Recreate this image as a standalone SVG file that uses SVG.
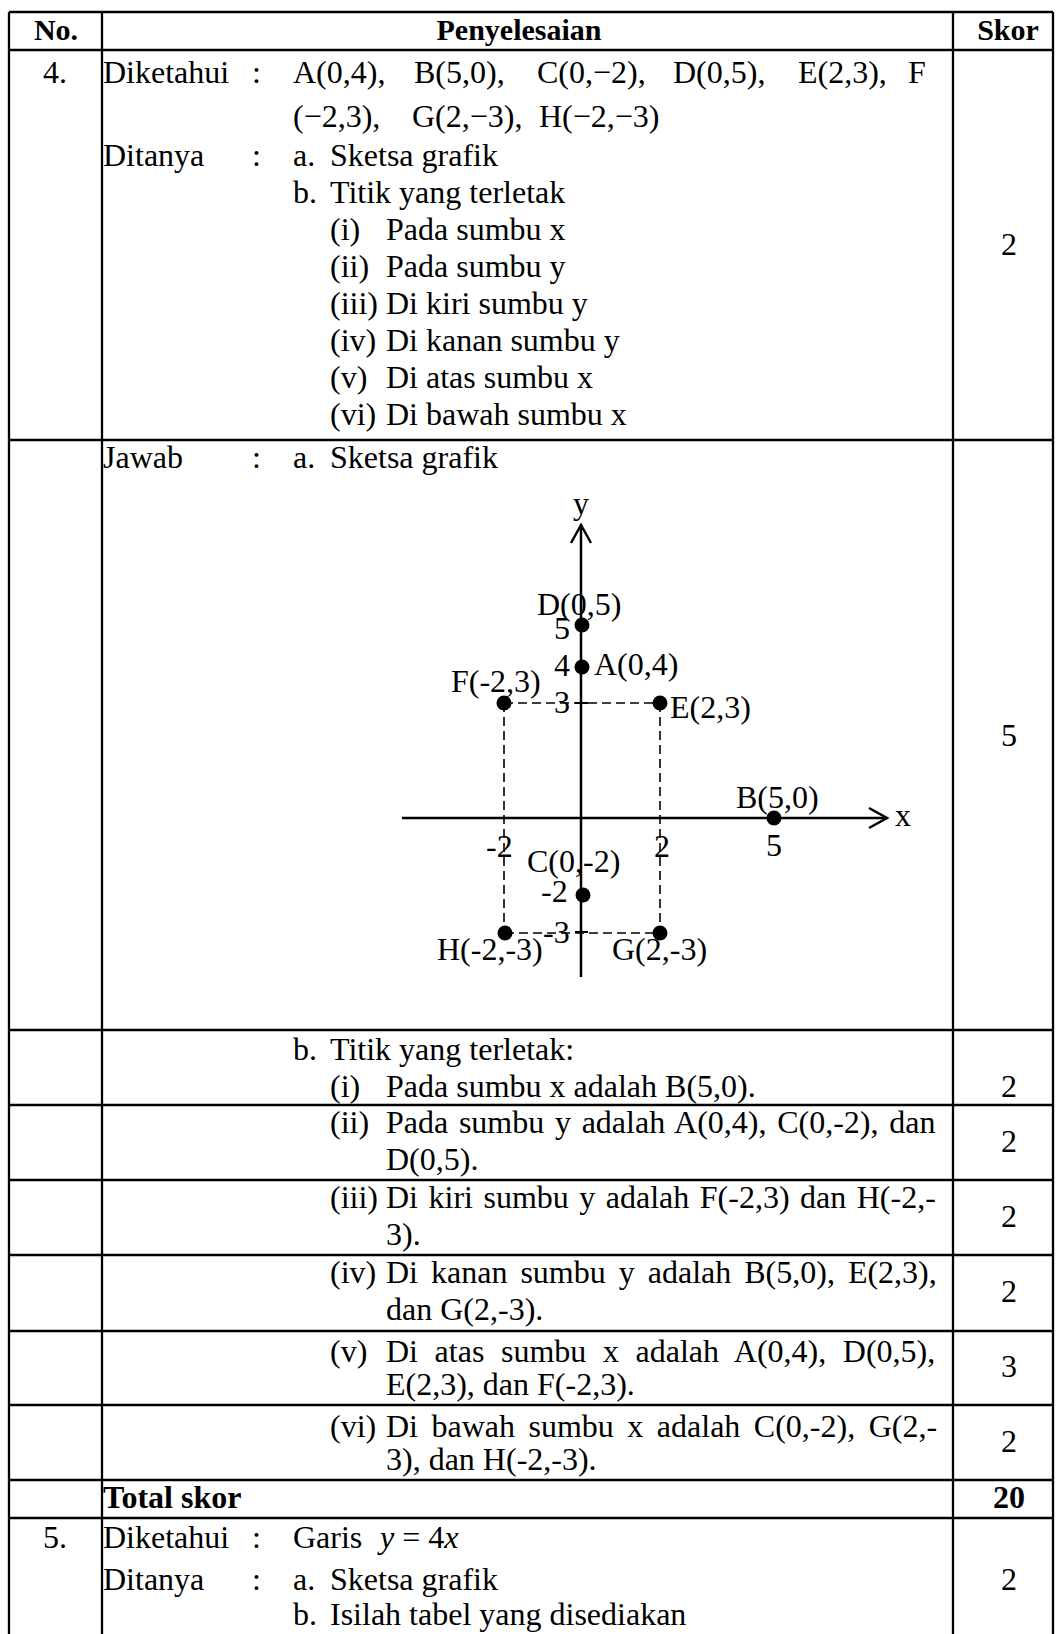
<svg xmlns="http://www.w3.org/2000/svg" width="1056" height="1634" viewBox="0 0 1056 1634">
<style>
text{font-family:"Liberation Serif","Times New Roman",serif;font-size:32px;fill:#000}
.b{font-weight:bold}
.h{font-size:30px}
.c{text-anchor:middle}
.grid line{stroke:#000;stroke-width:2.3}
.axis{stroke:#000;stroke-width:2.5;fill:none}
.dash{stroke:#000;stroke-width:1.6;stroke-dasharray:9 5;fill:none}
.tick{stroke:#000;stroke-width:2}
.dot{fill:#000}
</style>
<defs>
<marker id="arr" markerUnits="userSpaceOnUse" markerWidth="26" markerHeight="26" viewBox="0 0 26 26" refX="21" refY="13" orient="auto">
<path d="M3,3 L21,13 L3,23" fill="none" stroke="#000" stroke-width="2.5"/>
</marker>
</defs>
<rect x="0" y="0" width="1056" height="1634" fill="#fff"/>

<g id="grid" class="grid">
<line x1="9" y1="12" x2="1053" y2="12"/>
<line x1="9" y1="50" x2="1053" y2="50"/>
<line x1="9" y1="440" x2="1053" y2="440"/>
<line x1="9" y1="1030" x2="1053" y2="1030"/>
<line x1="9" y1="1105" x2="1053" y2="1105"/>
<line x1="9" y1="1180" x2="1053" y2="1180"/>
<line x1="9" y1="1255" x2="1053" y2="1255"/>
<line x1="9" y1="1331" x2="1053" y2="1331"/>
<line x1="9" y1="1405" x2="1053" y2="1405"/>
<line x1="9" y1="1480" x2="1053" y2="1480"/>
<line x1="9" y1="1518" x2="1053" y2="1518"/>
<line x1="9" y1="12" x2="9" y2="1634"/>
<line x1="102" y1="12" x2="102" y2="1634"/>
<line x1="953" y1="12" x2="953" y2="1634"/>
<line x1="1053" y1="12" x2="1053" y2="1634"/>
</g>

<g id="header">
<text class="b c h" x="56" y="40">No.</text>
<text class="b c h" x="519" y="40">Penyelesaian</text>
<text class="b c h" x="1008" y="40">Skor</text>
</g>

<g id="row4-given">
<text class="c" x="55" y="83">4.</text>
<text x="103" y="83">Diketahui</text>
<text x="252" y="83">:</text>
<text x="293" y="83">A(0,4),</text>
<text x="414" y="83">B(5,0),</text>
<text x="537" y="83">C(0,−2),</text>
<text x="673" y="83">D(0,5),</text>
<text x="798" y="83">E(2,3),</text>
<text x="908" y="83">F</text>
<text x="293" y="127">(−2,3),</text>
<text x="412" y="127">G(2,−3),</text>
<text x="539" y="127">H(−2,−3)</text>
<text x="103" y="166">Ditanya</text>
<text x="252" y="166">:</text>
<text x="293" y="166">a.</text>
<text x="330" y="166">Sketsa grafik</text>
<text x="293" y="203">b.</text>
<text x="330" y="203">Titik yang terletak</text>
<text x="330" y="240">(i)</text>
<text x="386" y="240">Pada sumbu x</text>
<text x="330" y="277">(ii)</text>
<text x="386" y="277">Pada sumbu y</text>
<text x="330" y="314">(iii)</text>
<text x="386" y="314">Di kiri sumbu y</text>
<text x="330" y="351">(iv)</text>
<text x="386" y="351">Di kanan sumbu y</text>
<text x="330" y="388">(v)</text>
<text x="386" y="388">Di atas sumbu x</text>
<text x="330" y="425">(vi)</text>
<text x="386" y="425">Di bawah sumbu x</text>
<text class="c" x="1009" y="255">2</text>
</g>

<g id="row4-answer-a">
<text x="103" y="468">Jawab</text>
<text x="252" y="468">:</text>
<text x="293" y="468">a.</text>
<text x="330" y="468">Sketsa grafik</text>
<text class="c" x="1009" y="746">5</text>
</g>

<g id="graph">
<line class="dash" x1="504" y1="703" x2="660" y2="703"/>
<line class="dash" x1="504" y1="703" x2="504" y2="933"/>
<line class="dash" x1="660" y1="703" x2="660" y2="933"/>
<line class="dash" x1="505" y1="933" x2="660" y2="933"/>
<line class="axis" x1="402" y1="818" x2="887" y2="818" marker-end="url(#arr)"/>
<line class="axis" x1="581" y1="977" x2="581" y2="525" marker-end="url(#arr)"/>
<line class="tick" x1="575" y1="703" x2="588" y2="703"/>
<line class="tick" x1="575" y1="932" x2="588" y2="932"/>
<circle class="dot" cx="582" cy="625" r="7.5"/>
<circle class="dot" cx="582" cy="667" r="7.5"/>
<circle class="dot" cx="504" cy="703" r="7.5"/>
<circle class="dot" cx="660" cy="703" r="7.5"/>
<circle class="dot" cx="774" cy="818" r="7.5"/>
<circle class="dot" cx="583" cy="895" r="7.5"/>
<circle class="dot" cx="505" cy="933" r="7.5"/>
<circle class="dot" cx="660" cy="933" r="7.5"/>
<text class="c" x="581" y="514">y</text>
<text x="895" y="826">x</text>
<text x="537" y="615">D(0,5)</text>
<text x="554" y="639">5</text>
<text x="554" y="676">4</text>
<text x="594" y="675">A(0,4)</text>
<text x="451" y="692">F(-2,3)</text>
<text x="554" y="713">3</text>
<text x="670" y="718">E(2,3)</text>
<text x="736" y="808">B(5,0)</text>
<text x="766" y="856">5</text>
<text x="486" y="857">-2</text>
<text x="654" y="857">2</text>
<text x="527" y="872">C(0,-2)</text>
<text x="541" y="902">-2</text>
<text x="543" y="943">-3</text>
<text x="437" y="960">H(-2,-3)</text>
<text x="612" y="960">G(2,-3)</text>
</g>

<g id="row4-answer-b">
<text x="293" y="1060">b.</text>
<text x="330" y="1060">Titik yang terletak:</text>
<text x="330" y="1097">(i)</text>
<text x="386" y="1097">Pada sumbu x adalah B(5,0).</text>
<text class="c" x="1009" y="1097">2</text>
</g>
<g id="row4-ii">
<text x="330" y="1133">(ii)</text>
<text x="386" y="1133" word-spacing="2.7">Pada sumbu y adalah A(0,4), C(0,-2), dan</text>
<text x="386" y="1170">D(0,5).</text>
<text class="c" x="1009" y="1152">2</text>
</g>
<g id="row4-iii">
<text x="330" y="1208">(iii)</text>
<text x="386" y="1208" word-spacing="2.5">Di kiri sumbu y adalah F(-2,3) dan H(-2,-</text>
<text x="386" y="1245">3).</text>
<text class="c" x="1009" y="1227">2</text>
</g>
<g id="row4-iv">
<text x="330" y="1283">(iv)</text>
<text x="386" y="1283" word-spacing="5">Di kanan sumbu y adalah B(5,0), E(2,3),</text>
<text x="386" y="1320">dan G(2,-3).</text>
<text class="c" x="1009" y="1302">2</text>
</g>
<g id="row4-v">
<text x="330" y="1362">(v)</text>
<text x="386" y="1362" word-spacing="8.6">Di atas sumbu x adalah A(0,4), D(0,5),</text>
<text x="386" y="1395">E(2,3), dan F(-2,3).</text>
<text class="c" x="1009" y="1377">3</text>
</g>
<g id="row4-vi">
<text x="330" y="1437">(vi)</text>
<text x="386" y="1437" word-spacing="5.5">Di bawah sumbu x adalah C(0,-2), G(2,-</text>
<text x="386" y="1470">3), dan H(-2,-3).</text>
<text class="c" x="1009" y="1452">2</text>
</g>
<g id="total">
<text class="b" x="103" y="1508">Total skor</text>
<text class="b c" x="1009" y="1508">20</text>
</g>
<g id="row5">
<text class="c" x="55" y="1548">5.</text>
<text x="103" y="1548">Diketahui</text>
<text x="252" y="1548">:</text>
<text x="293" y="1548">Garis</text>
<text x="380" y="1548"><tspan font-style="italic">y</tspan> = 4<tspan font-style="italic">x</tspan></text>
<text x="103" y="1590">Ditanya</text>
<text x="252" y="1590">:</text>
<text x="293" y="1590">a.</text>
<text x="330" y="1590">Sketsa grafik</text>
<text x="293" y="1625">b.</text>
<text x="330" y="1625">Isilah tabel yang disediakan</text>
<text class="c" x="1009" y="1590">2</text>
</g>
</svg>
